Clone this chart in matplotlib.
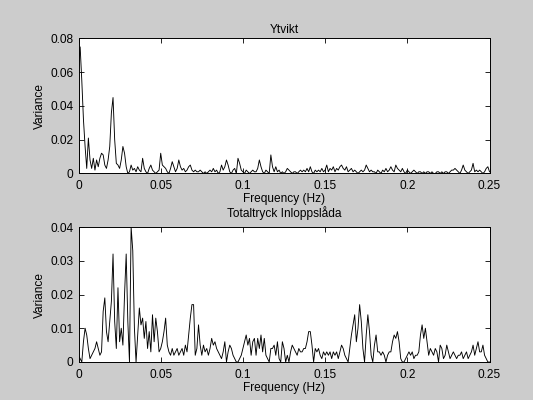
import matplotlib
matplotlib.use("Agg")
import matplotlib.pyplot as plt
from matplotlib.ticker import FuncFormatter
import numpy as np

# frequency axis, 0.001 Hz steps from 0 to 0.25 Hz
freq_step = 0.001
n_points = 251

# spectrum "Ytvikt" (one row = 0.01 Hz)
ytvikt = [
    0.065, 0.075, 0.055, 0.032, 0.016, 0.003, 0.021, 0.008, 0.003, 0.009,
    0.002, 0.008, 0.004, 0.009, 0.012, 0.011, 0.005, 0.003, 0.008, 0.016,
    0.036, 0.045, 0.020, 0.006, 0.005, 0.003, 0.008, 0.016, 0.012, 0.004,
    0.000, 0.001, 0.005, 0.002, 0.003, 0.001, 0.004, 0.002, 0.001, 0.009,
    0.003, 0.001, 0.000, 0.003, 0.005, 0.002, 0.001, 0.000, 0.001, 0.002,
    0.012, 0.005, 0.004, 0.003, 0.001, 0.000, 0.003, 0.007, 0.004, 0.001,
    0.003, 0.008, 0.004, 0.002, 0.003, 0.001, 0.002, 0.004, 0.005, 0.002,
    0.001, 0.002, 0.001, 0.001, 0.002, 0.001, 0.000, 0.001, 0.000, 0.001,
    0.002, 0.001, 0.003, 0.001, 0.002, 0.000, 0.001, 0.005, 0.002, 0.004,
    0.008, 0.005, 0.001, 0.000, 0.002, 0.003, 0.000, 0.009, 0.006, 0.002,
    0.001, 0.000, 0.002, 0.001, 0.000, 0.001, 0.002, 0.001, 0.001, 0.003,
    0.008, 0.004, 0.001, 0.000, 0.002, 0.001, 0.000, 0.011, 0.004, 0.001,
    0.004, 0.001, 0.002, 0.000, 0.001, 0.000, 0.001, 0.003, 0.002, 0.001,
    0.000, 0.001, 0.001, 0.000, 0.001, 0.002, 0.001, 0.002, 0.001, 0.003,
    0.001, 0.004, 0.001, 0.000, 0.002, 0.001, 0.002, 0.001, 0.003, 0.001,
    0.002, 0.005, 0.001, 0.003, 0.002, 0.004, 0.001, 0.003, 0.002, 0.004,
    0.005, 0.003, 0.002, 0.004, 0.001, 0.002, 0.003, 0.001, 0.002, 0.001,
    0.000, 0.001, 0.002, 0.001, 0.002, 0.005, 0.003, 0.001, 0.002, 0.001,
    0.001, 0.000, 0.002, 0.001, 0.000, 0.002, 0.001, 0.003, 0.001, 0.002,
    0.004, 0.002, 0.001, 0.005, 0.003, 0.002, 0.001, 0.003, 0.001, 0.000,
    0.002, 0.001, 0.000, 0.001, 0.002, 0.001, 0.000, 0.001, 0.001, 0.000,
    0.001, 0.000, 0.001, 0.001, 0.000, 0.001, 0.000, 0.000, 0.001, 0.001,
    0.000, 0.001, 0.000, 0.001, 0.001, 0.000, 0.001, 0.002, 0.002, 0.003,
    0.002, 0.001, 0.000, 0.002, 0.005, 0.002, 0.001, 0.000, 0.001, 0.002,
    0.006, 0.001, 0.002, 0.001, 0.002, 0.001, 0.000, 0.001, 0.003, 0.004,
    0.001,
]

# spectrum "Totaltryck Inloppslåda"
totaltryck = [
    0.002, 0.001, 0.000, 0.006, 0.010, 0.008, 0.004, 0.001, 0.002, 0.003,
    0.004, 0.006, 0.004, 0.002, 0.003, 0.015, 0.019, 0.009, 0.006, 0.012,
    0.018, 0.032, 0.012, 0.004, 0.022, 0.006, 0.010, 0.005, 0.020, 0.032,
    0.012, 0.000, 0.040, 0.033, 0.010, 0.000, 0.008, 0.016, 0.011, 0.013,
    0.007, 0.012, 0.004, 0.009, 0.003, 0.014, 0.006, 0.013, 0.009, 0.003,
    0.004, 0.006, 0.009, 0.013, 0.005, 0.003, 0.002, 0.004, 0.002, 0.003,
    0.004, 0.002, 0.003, 0.004, 0.002, 0.005, 0.003, 0.008, 0.013, 0.017,
    0.017, 0.002, 0.004, 0.011, 0.005, 0.002, 0.005, 0.003, 0.004, 0.002,
    0.004, 0.007, 0.005, 0.006, 0.004, 0.003, 0.002, 0.001, 0.003, 0.006,
    0.000, 0.003, 0.005, 0.004, 0.002, 0.001, 0.000, 0.000, 0.001, 0.002,
    0.004, 0.006, 0.008, 0.005, 0.007, 0.002, 0.006, 0.007, 0.002, 0.007,
    0.004, 0.008, 0.003, 0.007, 0.002, 0.001, 0.000, 0.004, 0.004, 0.005,
    0.002, 0.006, 0.001, 0.000, 0.006, 0.004, 0.000, 0.002, 0.000, 0.003,
    0.005, 0.004, 0.003, 0.002, 0.004, 0.003, 0.003, 0.004, 0.004, 0.006,
    0.009, 0.009, 0.005, 0.000, 0.004, 0.003, 0.004, 0.002, 0.001, 0.003,
    0.002, 0.003, 0.002, 0.003, 0.001, 0.003, 0.002, 0.003, 0.001, 0.003,
    0.005, 0.004, 0.002, 0.001, 0.000, 0.004, 0.008, 0.011, 0.014, 0.006,
    0.010, 0.017, 0.012, 0.004, 0.000, 0.008, 0.014, 0.009, 0.002, 0.000,
    0.005, 0.008, 0.003, 0.003, 0.002, 0.003, 0.002, 0.000, 0.002, 0.003,
    0.003, 0.006, 0.008, 0.007, 0.009, 0.006, 0.001, 0.000, 0.000, 0.001,
    0.002, 0.003, 0.002, 0.003, 0.001, 0.002, 0.002, 0.003, 0.008, 0.011,
    0.007, 0.010, 0.006, 0.002, 0.004, 0.003, 0.002, 0.004, 0.003, 0.000,
    0.005, 0.004, 0.001, 0.002, 0.005, 0.003, 0.001, 0.002, 0.003, 0.002,
    0.001, 0.002, 0.002, 0.003, 0.001, 0.002, 0.003, 0.001, 0.002, 0.003,
    0.005, 0.002, 0.004, 0.006, 0.003, 0.003, 0.005, 0.002, 0.001, 0.000,
    0.000,
]

titles = ["Ytvikt", "Totaltryck Inloppslåda"]
x_ticks = [0, 0.05, 0.1, 0.15, 0.2, 0.25]
y_ticks_top = [0, 0.02, 0.04, 0.06, 0.08]
y_ticks_bottom = [0, 0.01, 0.02, 0.03, 0.04]

FS = 8.6


def style_axes(ax, yticks, title, title_pad):
    ax.set_xlim(0, 0.25)
    ax.set_ylim(yticks[0], yticks[-1])
    ax.set_xticks(x_ticks)
    ax.set_yticks(yticks)
    fmt = FuncFormatter(lambda v, pos: "%g" % round(v, 4))
    ax.xaxis.set_major_formatter(fmt)
    ax.yaxis.set_major_formatter(fmt)
    ax.tick_params(direction="in", length=3.5, width=0.6, top=True, right=True,
                   labelsize=FS)
    ax.tick_params(axis="x", pad=5)
    ax.tick_params(axis="y", pad=3.6)
    for sp in ax.spines.values():
        sp.set_linewidth(0.7)
    ax.set_xlabel("Frequency (Hz)", fontsize=FS, labelpad=0.4)
    ax.set_ylabel("Variance", fontsize=FS, labelpad=3.2)
    ax.set_title(title, fontsize=FS, pad=title_pad)


def main():
    plt.rcParams["font.family"] = ["Liberation Sans", "DejaVu Sans"]

    freq = np.arange(n_points) * freq_step

    fig = plt.figure(figsize=(5.33, 4.0), dpi=100, facecolor="#cccccc")
    ax1 = fig.add_axes([0.1473, 0.5663, 0.7711, 0.3375])
    ax2 = fig.add_axes([0.1473, 0.0950, 0.7711, 0.3375])

    ax1.plot(freq, ytvikt, color="black", lw=0.65)
    style_axes(ax1, y_ticks_top, titles[0], 3.9)

    ax2.plot(freq, totaltryck, color="black", lw=0.65)
    style_axes(ax2, y_ticks_bottom, titles[1], 7.2)

    fig.savefig("out.png", dpi=100, facecolor=fig.get_facecolor())


if __name__ == "__main__":
    main()
